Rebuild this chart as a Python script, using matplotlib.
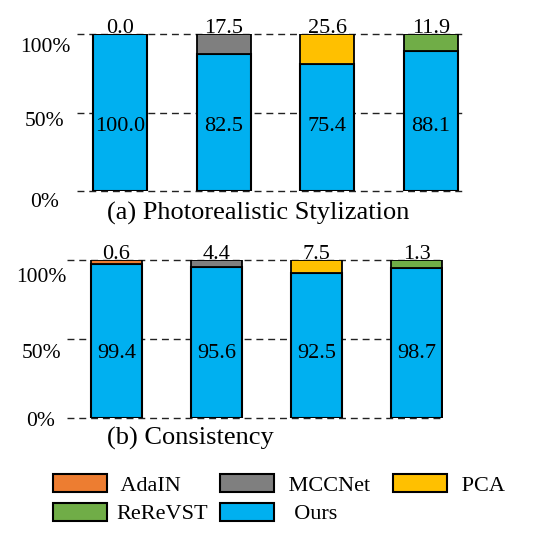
import matplotlib
matplotlib.use("Agg")
import matplotlib.pyplot as plt
import matplotlib.transforms as mtransforms
from matplotlib.patches import Patch

plt.rcParams['font.family'] = ['Liberation Serif', 'DejaVu Serif']

# ---- data ----
methods = ["AdaIN", "MCCNet", "PCA", "ReReVST"]
# printed values
ours_photo = [100.0, 82.5, 75.4, 88.1]
other_photo = [0.0, 17.5, 25.6, 11.9]
ours_cons = [99.4, 95.6, 92.5, 98.7]
other_cons = [0.6, 4.4, 7.5, 1.3]
# segment heights as drawn in the picture (% of bar)
other_photo_drawn = [0.0, 12.7, 19.0, 10.8]
other_cons_drawn = [2.6, 4.2, 8.0, 5.0]
ytick_vals = [0, 50, 100]
ytick_labels = ["0%", "50%", "100%"]
legend_labels = ["AdaIN", "MCCNet", "PCA", "ReReVST", "Ours"]
titles = ["(a) Photorealistic Stylization", "(b) Consistency"]

colors = {"AdaIN": "#ED7D31", "MCCNet": "#7F7F7F", "PCA": "#FFC000",
          "ReReVST": "#70AD47", "Ours": "#00B0F0"}

W = 539
fig = plt.figure(figsize=(5.39, 5.39), dpi=100)

def px(x0, y0, x1, y1):
    return [x0 / W, 1 - y1 / W, (x1 - x0) / W, (y1 - y0) / W]

ax1 = fig.add_axes(px(77, 34, 463, 191))
ax2 = fig.add_axes(px(67, 260, 443, 418))

configs = [
    (ax1, ours_photo, other_photo, other_photo_drawn, (-0.415, 3.309), 0.52, -0.083, [11, 9, 13]),
    (ax2, ours_cons, other_cons, other_cons_drawn, (-0.495, 3.265), 0.51, -0.069, [4, 14, 17]),
]

for ax, ours, other, drawn, xl, bw, tx, offs in configs:
    xs = list(range(len(methods)))
    base = [100 - d for d in drawn]
    ax.bar(xs, base, width=bw, color=colors["Ours"], edgecolor="black",
           linewidth=1.5, zorder=3)
    ax.bar(xs, drawn, width=bw, bottom=base,
           color=[colors[m] for m in methods], edgecolor="black",
           linewidth=1.3, zorder=3)
    for v in ytick_vals:
        ax.axhline(v, color="#222222", linestyle=(0, (5, 3.5)), linewidth=1.0,
                   zorder=1, clip_on=False)
    for x, o, t in zip(xs, ours, other):
        ax.text(x, 41, f"{o:.1f}", ha="center", va="center", fontsize=16,
                zorder=5)
        ax.text(x, 100.8, f"{t:.1f}", ha="center", va="baseline",
                fontsize=16, zorder=5, clip_on=False)
    trans = ax.get_yaxis_transform()
    for v, lab, off in zip(ytick_vals, ytick_labels, offs):
        tr = trans + mtransforms.ScaledTranslation(0, -off / 100, fig.dpi_scale_trans)
        ax.text(tx, v, lab, ha="center", va="center", fontsize=15.5,
                transform=tr, clip_on=False)
    ax.set_xlim(*xl)
    ax.set_ylim(0, 100)
    ax.set_xticks([])
    ax.set_yticks([])
    for s in ax.spines.values():
        s.set_visible(False)

fig.text(107 / W, 1 - 213 / W, titles[0], ha="left", va="center", fontsize=19)
fig.text(107 / W, 1 - 438 / W, titles[1], ha="left", va="center", fontsize=19)

disp = {"AdaIN": " AdaIN", "MCCNet": " MCCNet  ", "PCA": " PCA",
        "ReReVST": "ReReVST", "Ours": "  Ours"}
# legend fills column by column: order so rows read AdaIN MCCNet PCA / ReReVST Ours
order = ["AdaIN", "ReReVST", "MCCNet", "Ours", "PCA"]
handles = [Patch(facecolor=colors[m], edgecolor="black", linewidth=1.5)
           for m in order]
leg = fig.legend(handles, [disp[m] for m in order], loc="upper left",
                 bbox_to_anchor=(53 / W, 1 - 474 / W), ncol=3, frameon=False,
                 fontsize=16, handlelength=2.43, handleheight=0.86,
                 handletextpad=0.4, columnspacing=0.55, labelspacing=0.32,
                 borderpad=0, borderaxespad=0)

fig.savefig("out.png", dpi=100)
